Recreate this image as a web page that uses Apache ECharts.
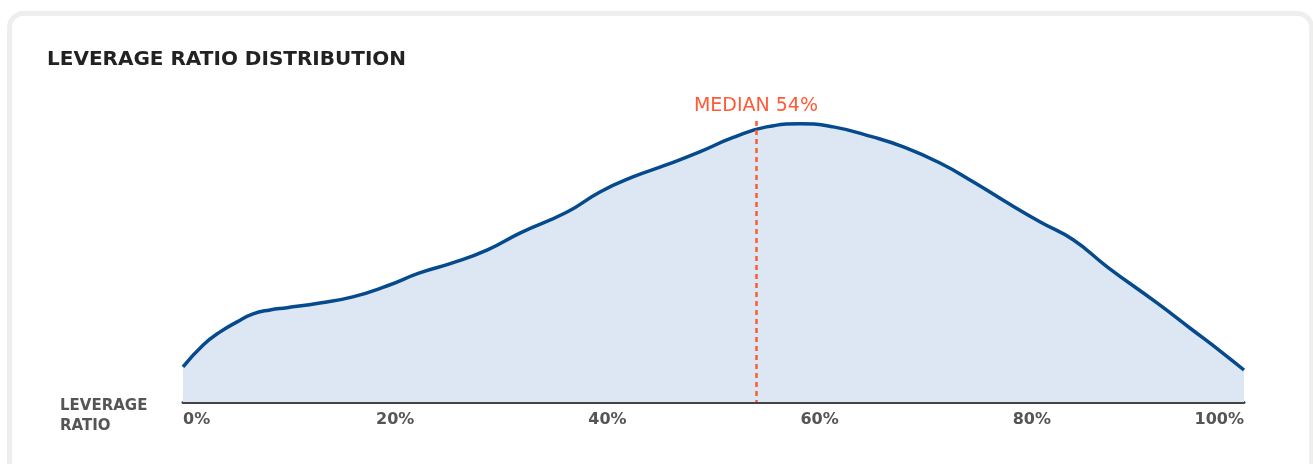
<!DOCTYPE html>
<html>
<head>
<meta charset="utf-8">
<script src="https://cdn.jsdelivr.net/npm/echarts@6/dist/echarts.min.js"></script>
<style>
  html, body { margin: 0; padding: 0; background: #ffffff; }
  #chart { width: 1313px; height: 464px; }
</style>
</head>
<body>
<div id="chart"></div>
<script>
// Leverage ratio (%) sample points along the distribution curve
const ratioPct = [0, 1.9, 3.5, 5.1, 6.6, 8.2, 9.8, 12.9, 16.0, 19.2, 22.3, 25.4, 28.7, 31.8, 36.2,
  39.3, 42.4, 45.6, 48.7, 51.8, 55.0, 58.2, 61.3, 65.0, 67.9, 71.3, 74.5, 77.7, 80.8, 83.9,
  87.1, 91.8, 94.9, 98.0, 100];
// Relative density at each point (peak = 100)
const density = [12.6, 20.5, 25.2, 28.8, 31.7, 33.1, 33.9, 35.6, 37.8, 41.7, 46.4, 50.0, 54.7, 60.8, 68.3,
  75.5, 80.9, 85.3, 89.9, 95.0, 98.9, 100, 98.9, 95.3, 91.7, 86.0, 79.1, 71.6, 64.7, 58.3,
  48.6, 35.6, 26.6, 17.6, 11.5];
const medianPct = 54;
const medianTop = 101;
const tickStep = 20;

const chart = echarts.init(document.getElementById('chart'), null, { renderer: 'canvas' });

const FONT = '"DejaVu Sans", sans-serif';

chart.setOption({
  backgroundColor: '#ffffff',
  animation: false,
  graphic: [
    {
      type: 'rect', z: -10, silent: true,
      shape: { x: 9.5, y: 13.5, width: 1302, height: 520, r: 14 },
      style: { fill: '#ffffff', stroke: '#eeeeec', lineWidth: 5 }
    },
    {
      type: 'text', left: 60, top: 396,
      style: {
        text: 'LEVERAGE\nRATIO', fill: '#555555', font: 'bold 15px ' + FONT, lineHeight: 20
      }
    }
  ],
  title: {
    text: 'LEVERAGE RATIO DISTRIBUTION',
    left: 42, top: 45,
    textStyle: { color: '#222222', fontFamily: FONT, fontWeight: 'bold', fontSize: 20 }
  },
  grid: { left: 183, right: 69, top: 96, bottom: 62 },
  xAxis: {
    type: 'value', min: 0, max: 100, interval: tickStep,
    axisLine: { show: true, lineStyle: { color: '#444444', width: 3 } },
    axisTick: { show: false },
    splitLine: { show: false },
    axisLabel: {
      formatter: '{value}%', color: '#555555', fontFamily: FONT, fontWeight: 'bold', fontSize: 16,
      margin: 10, alignMinLabel: 'left', alignMaxLabel: 'right'
    }
  },
  yAxis: { type: 'value', min: 0, max: 110, show: false },
  series: [{
    type: 'line',
    data: ratioPct.map((x, i) => [x, density[i]]),
    smooth: 0.5,
    symbol: 'none',
    lineStyle: { color: '#054a8c', width: 3.5 },
    areaStyle: { color: '#dde7f3', opacity: 1 },
    markLine: {
      silent: true,
      symbol: 'none',
      lineStyle: { color: '#ff5a36', type: [5, 4], width: 2.5 },
      label: {
        show: true, position: 'start', distance: 5,
        formatter: 'MEDIAN ' + medianPct + '%',
        color: '#ff5a36', fontFamily: FONT, fontWeight: 'normal', fontSize: 19
      },
      data: [[{ coord: [medianPct, medianTop] }, { coord: [medianPct, 0] }]]
    }
  }]
});
</script>
</body>
</html>
